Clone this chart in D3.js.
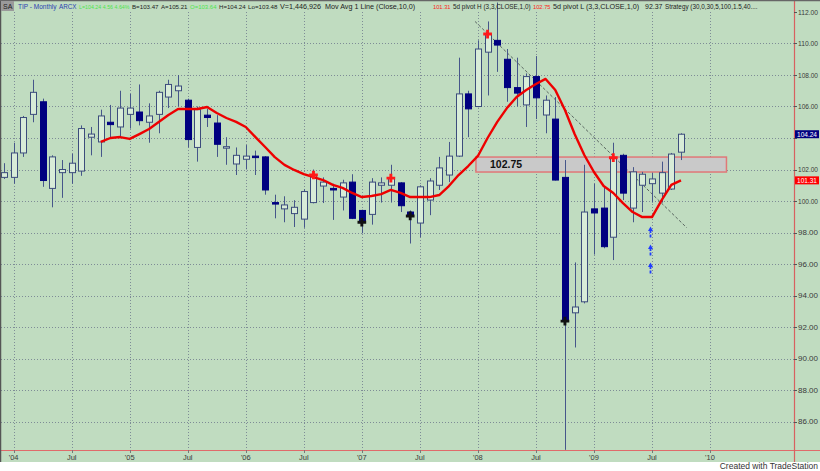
<!DOCTYPE html>
<html><head><meta charset="utf-8">
<script src="https://cdn.jsdelivr.net/npm/d3@7"></script>
<style>
body{margin:0;background:#fff}
svg{display:block}
text{font-family:"Liberation Sans",Arial,sans-serif}
</style>
</head><body>
<svg id="c" width="820" height="471"></svg>
<script>
// ---------- DATA (monthly bars, Dec 2003 .. Oct 2009) ----------
const opens  = [101.5,101.5,103.05,105.5,106.3,100.8,101.8,101.8,101.9,104.05,
  103.75,105.0,104.7,105.5,105.65,105.0,105.5,106.6,107.0,106.4,
  103.4,105.45,104.95,103.4,102.35,102.65,102.85,102.8,99.9,99.5,
  99.2,98.85,99.9,100.95,100.8,100.25,101.2,99.4,99.15,101.0,
  101.0,101.15,99.3,98.6,100.06,101.0,101.65,102.85,106.8,106.0,
  109.45,110.2,109.0,107.2,106.1,107.9,105.46,105.2,101.5,92.9,
  93.6,99.5,99.55,97.7,102.9,99.55,101.0,101.1,100.5,100.76,103.1];
const highs  = [102.4,103.7,105.4,107.7,106.5,102.9,102.6,103.0,104.8,104.7,
  105.8,106.1,107.0,106.8,107.4,106.2,107.0,107.7,108.0,106.5,
  106.0,105.85,105.45,104.05,103.4,103.55,103.2,102.85,100.4,100.3,
  100.05,100.75,102.0,101.5,101.1,101.35,101.7,99.45,101.45,101.5,
  102.3,101.2,99.4,101.0,101.45,102.8,103.75,109.1,107.0,110.2,
  111.4,112.6,109.65,109.1,108.1,109.2,106.7,106.6,102.6,96.1,
  102.3,101.1,100.9,103.7,103.0,102.15,101.85,101.8,102.5,103.05,104.3];
const lows   = [101.4,101.1,102.8,105.0,100.9,99.6,100.2,101.1,101.6,102.9,
  102.8,104.05,104.05,104.6,104.8,103.7,104.3,105.9,106.0,103.4,
  102.5,104.7,102.8,102.3,101.65,102.0,101.65,100.4,98.9,98.65,
  98.35,98.3,99.85,99.87,98.8,99.4,98.85,97.95,98.5,99.9,
  99.9,99.3,97.3,97.7,99.1,100.7,101.2,102.8,104.05,105.95,
  106.7,108.2,106.3,106.0,104.7,105.2,104.3,101.3,84.2,90.7,
  93.5,96.6,97.0,96.25,100.06,98.65,99.3,99.9,99.9,100.7,102.6];
const closes = [101.8,103.05,105.3,106.9,101.3,102.8,102.0,102.4,104.6,104.25,
  105.4,104.85,105.9,105.9,105.1,105.4,106.9,107.4,107.3,103.9,
  105.8,105.3,103.6,103.45,102.9,102.85,102.8,100.7,99.85,99.75,
  99.6,100.6,101.65,101.2,100.7,101.15,98.9,98.65,101.2,101.15,
  101.45,99.7,99.05,100.9,101.27,102.1,102.85,106.8,105.85,109.65,
  110.6,109.9,107.2,106.85,107.9,106.55,106.4,101.33,92.37,93.27,
  99.3,99.24,97.1,102.75,100.5,101.85,101.7,101.4,101.8,102.98,104.24];
// Mov Avg 1 Line (Close,10,0), starting at bar 10
const maStart = 10;
const maValues = [103.75,104.0,104.06,103.94,104.25,104.57,105.02,105.46,105.84,105.84,
  105.84,105.97,105.59,105.27,105.02,104.70,104.06,103.43,102.79,102.29,
  101.97,101.71,101.52,101.33,101.02,100.83,100.51,100.25,100.32,100.44,
  100.70,100.51,100.25,100.25,100.25,100.38,100.95,101.65,102.22,102.86,
  104.0,105.02,105.90,106.60,107.05,107.43,107.75,107.05,105.78,104.25,
  102.92,101.84,100.95,100.51,99.87,99.30,98.98,98.98,100.06,101.02,101.31];
const pivotHighBars = [32,40,50,63];
const pivotLowBars  = [37,42,58];
const xTickBars   = [1,7,13,19,25,31,37,43,49,55,61,67,73];
const xTickLabels = ["'04","Jul","'05","Jul","'06","Jul","'07","Jul","'08","Jul","'09","Jul","'10"];
const yTickValues = [86,88,90,92,94,96,98,100,102,104,106,108,110,112];
const lastPrice = 104.24, maLast = 101.31;
const zoneBars = [48.8, 74.7], zoneValues = [101.84, 102.79], zoneLabel = "102.75";
const trendBars = [48.7, 70.6], trendValues = [111.4, 98.3];
const arrowBar = 67, arrowValues = [98.35, 97.2, 96.06];

// ---------- LAYOUT ----------
const svg = d3.select("#c");
const W = 820, H = 471, plotR = 794, plotB = 450, greenB = 462;
const bg = "#c0dcc0";
const x = d3.scaleLinear().domain([0,70]).range([4,681]);
const y = d3.scaleLinear().domain([86,112]).range([421.5,12]);

svg.append("rect").attr("width",W).attr("height",H).attr("fill","#fff");
svg.append("rect").attr("width",W).attr("height",greenB).attr("fill",bg);

svg.append("defs").append("clipPath").attr("id","clip")
  .append("rect").attr("x",1).attr("y",0).attr("width",plotR-1).attr("height",plotB);

// grid
const grid = svg.append("g");
grid.selectAll(".hg").data(yTickValues.filter(v=>v<112)).join("line")
  .attr("x1",1).attr("x2",plotR).attr("y1",d=>Math.round(y(d))+0.5).attr("y2",d=>Math.round(y(d))+0.5)
  .attr("stroke","#7e8c96").attr("stroke-dasharray","1,2").attr("stroke-width",1);
grid.selectAll(".vg").data(xTickBars).join("line")
  .attr("x1",d=>Math.round(x(d))+0.5).attr("x2",d=>Math.round(x(d))+0.5).attr("y1",12).attr("y2",plotB)
  .attr("stroke","#7e8c96").attr("stroke-dasharray","1,2").attr("stroke-width",1);

const plot = svg.append("g").attr("clip-path","url(#clip)");

// zone
plot.append("rect")
  .attr("x",x(zoneBars[0])).attr("width",x(zoneBars[1])-x(zoneBars[0]))
  .attr("y",y(zoneValues[1])).attr("height",y(zoneValues[0])-y(zoneValues[1]))
  .attr("fill","#c9c9c9").attr("stroke","#e07878").attr("stroke-width",1.5);

// trend line
plot.append("line")
  .attr("x1",x(trendBars[0])).attr("y1",y(trendValues[0]))
  .attr("x2",x(trendBars[1])).attr("y2",y(trendValues[1]))
  .attr("stroke","#5a6660").attr("stroke-width",1).attr("stroke-dasharray","3,2");

// candles
const bars = d3.range(opens.length).map(i=>({i,o:opens[i],h:highs[i],l:lows[i],c:closes[i]}));
const wickCol = "#46568a", navy = "#000080";
const cg = plot.append("g");
cg.selectAll(".wk").data(bars).join("line")
  .attr("x1",d=>Math.round(x(d.i))+0.5).attr("x2",d=>Math.round(x(d.i))+0.5)
  .attr("y1",d=>y(d.h)).attr("y2",d=>y(d.l))
  .attr("stroke",wickCol).attr("stroke-width",1);
cg.selectAll(".bd").data(bars).join("rect")
  .attr("x",d=>Math.round(x(d.i))-2.5).attr("width",6)
  .attr("y",d=>y(Math.max(d.o,d.c))).attr("height",d=>Math.max(1.5,Math.abs(y(d.o)-y(d.c))))
  .attr("fill",d=>d.c<d.o?navy:"#d8ecd8")
  .attr("stroke",d=>d.c<d.o?navy:"#3c4c7c").attr("stroke-width",1);

// moving average
const ma = maValues.map((v,k)=>({i:k+maStart,v}));
plot.append("path").datum(ma)
  .attr("d",d3.line().x(d=>x(d.i)).y(d=>y(d.v)))
  .attr("fill","none").attr("stroke","#ee0000").attr("stroke-width",2.4).attr("stroke-linejoin","round");

// pivot markers (on close)
const cross = d3.symbol().type(d3.symbolCross).size(42);
plot.selectAll(".ph").data(pivotHighBars).join("path")
  .attr("d",cross).attr("transform",i=>`translate(${x(i)},${y(closes[i])})`)
  .attr("fill","#ff1a1a");
plot.selectAll(".pl").data(pivotLowBars).join("path")
  .attr("d",cross).attr("transform",i=>`translate(${x(i)},${y(closes[i])})`)
  .attr("fill","#111");

// blue arrows
const ag = plot.append("g").attr("fill","#1f3cff").attr("stroke","#1f3cff");
arrowValues.forEach(v=>{
  const ax = Math.round(x(arrowBar))-1.5, ty = y(v);
  ag.append("line").attr("x1",ax).attr("x2",ax).attr("y1",ty+3).attr("y2",ty+11).attr("stroke-width",1.8).attr("stroke-dasharray","3,1.5");
  ag.append("path").attr("d",`M${ax},${ty-0.5} L${ax-2.5},${ty+4} L${ax+2.5},${ty+4} Z`).attr("stroke","none");
});

// zone label
svg.append("text").attr("x",x(zoneBars[0])+14).attr("y",(y(zoneValues[0])+y(zoneValues[1]))/2+3.5)
  .attr("font-size",10.5).attr("font-weight","bold").attr("fill","#111").text(zoneLabel);

// borders
svg.append("line").attr("x1",0).attr("x2",W).attr("y1",plotB+0.5).attr("y2",plotB+0.5).attr("stroke","#e06a6a").attr("stroke-width",1.2);
svg.append("line").attr("x1",plotR+0.5).attr("x2",plotR+0.5).attr("y1",0).attr("y2",greenB).attr("stroke","#d86060").attr("stroke-width",1.2);
svg.append("line").attr("x1",0.5).attr("x2",0.5).attr("y1",0).attr("y2",greenB).attr("stroke","#555").attr("stroke-width",1.5);
svg.append("line").attr("x1",0).attr("x2",W).attr("y1",0.5).attr("y2",0.5).attr("stroke","#666").attr("stroke-width",1.5);

// right axis (labels hidden under the highlight boxes are skipped, as in the original)
const highlights = [[lastPrice,"#000080"],[maLast,"#ff0000"]];
const ra = svg.append("g");
ra.selectAll(".tk").data(yTickValues).join("line")
  .attr("x1",plotR).attr("x2",plotR+3).attr("y1",d=>Math.round(y(d))+0.5).attr("y2",d=>Math.round(y(d))+0.5)
  .attr("stroke","#555");
const visibleTicks = yTickValues.filter(v=>highlights.every(h=>Math.abs(y(v)-y(h[0]))>8));
ra.selectAll(".tl").data(visibleTicks).join("text")
  .attr("x",plotR+4).attr("y",d=>y(d)+2.5).attr("font-size",7).attr("fill","#3a3a3a")
  .attr("textLength",20).attr("lengthAdjust","spacingAndGlyphs")
  .text(d=>d3.format(".2f")(d));
highlights.forEach(([v,col])=>{
  ra.append("rect").attr("x",plotR+1).attr("y",y(v)-4).attr("width",W-plotR-2).attr("height",8).attr("fill",col);
  ra.append("text").attr("x",plotR+3).attr("y",y(v)+2.5).attr("font-size",7).attr("fill","#fff")
    .attr("textLength",20).attr("lengthAdjust","spacingAndGlyphs").text(d3.format(".2f")(v));
});

// bottom axis
const ba = svg.append("g");
ba.selectAll(".bt").data(xTickBars).join("line")
  .attr("x1",d=>Math.round(x(d))+0.5).attr("x2",d=>Math.round(x(d))+0.5).attr("y1",plotB).attr("y2",plotB+3)
  .attr("stroke","#777");
ba.selectAll(".bl").data(xTickBars).join("text")
  .attr("x",d=>x(d)).attr("y",plotB+10).attr("text-anchor","middle").attr("font-size",7.5).attr("fill","#3a3a3a")
  .text((d,k)=>xTickLabels[k]);

svg.append("text").attr("x",818).attr("y",469).attr("text-anchor","end").attr("font-size",8.5).attr("fill","#333")
  .text("Created with TradeStation");

// header
svg.append("rect").attr("x",1).attr("y",1).attr("width",13).attr("height",10).attr("fill","#9a9a9a");
svg.append("text").attr("x",3).attr("y",9).attr("font-size",7).attr("fill","#222").text("SA");
const header = [
  [18,"TIP - Monthly","#2a3fb0"],[59,"ARCX","#2a3fb0"],
  [79,"L=104.24  4.56  4.64%","#4ee44e"],
  [132,"B=103.47","#222"],[161,"A=105.21","#222"],[190,"O=103.64","#4ee44e"],
  [219,"H=104.24","#222"],[248,"Lo=103.48","#222"],[280,"V=1,446,926","#222"],
  [325,"Mov Avg 1 Line (Close,10,0)","#222"],[433,"101.31","#ff2020"],
  [453,"5d pivot H (3,3,CLOSE,1,0)","#222"],[533,"102.75","#ff2020"],
  [553,"5d pivot L (3,3,CLOSE,1,0)","#222"],[645,"92.37","#222"],
  [665,"Strategy (30,0,30,5,100,1.5,40....","#222"]];
svg.selectAll(".hd").data(header).join("text")
  .attr("x",d=>d[0]).attr("y",9).attr("font-size",7.2).attr("fill",d=>d[2])
  .text(d=>d[1])
  .each(function(d,k){
    const avail = (k<header.length-1?header[k+1][0]:760)-d[0]-2.5;
    const w = this.getComputedTextLength();
    if (w>avail) d3.select(this).attr("font-size",(7.2*avail/w).toFixed(2));
  });
</script>
</body></html>
